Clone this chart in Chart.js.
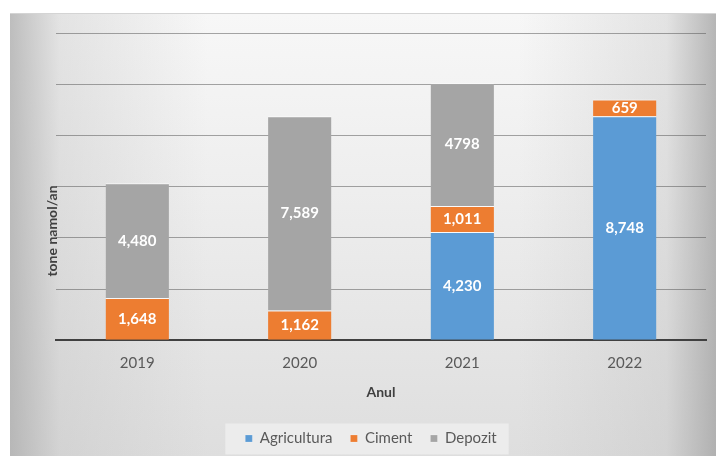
<!DOCTYPE html>
<html>
<head>
<meta charset="utf-8">
<script src="https://cdn.jsdelivr.net/npm/chart.js@4"></script>
<style>
  html, body { margin: 0; padding: 0; background: #ffffff; }
  #wrap { position: relative; width: 716px; height: 456px; }
  #bg {
    position: absolute; left: 10px; top: 13px; right: 0; bottom: 0;
    border-top: 1px solid #d4d4d4;
    background:
      linear-gradient(to right, rgba(170,170,170,0.75) 0%, rgba(190,190,190,0.35) 7%, rgba(255,255,255,0) 28%, rgba(255,255,255,0) 72%, rgba(190,190,190,0.35) 93%, rgba(165,165,165,0.8) 100%),
      linear-gradient(to bottom, #f7f7f7 0%, #eeeeee 40%, #dedede 100%);
  }
  canvas { position: absolute; left: 0; top: 0; }
</style>
</head>
<body>
<div id="wrap">
  <div id="bg"></div>
  <canvas id="chart" width="716" height="456"></canvas>
</div>
<script>
// Sludge destination by year (tonnes per year)
const years = ['2019', '2020', '2021', '2022'];
const agricultura = [0, 0, 4230, 8748];
const ciment = [1648, 1162, 1011, 659];
const depozit = [4480, 7589, 4798, 0];

// Printed value labels on each segment
const agriculturaLabels = ['', '', '4,230', '8,748'];
const cimentLabels = ['1,648', '1,162', '1,011', '659'];
const depozitLabels = ['4,480', '7,589', '4798', ''];

const seriesNames = ['Agricultura', 'Ciment', 'Depozit'];
const yTitle = 'tone namol/an';
const xTitle = 'Anul';
const yMax = 12000;
const yStep = 2000;

const FONT = 'Lato, "Open Sans", sans-serif';
const colors = ['#5b9bd5', '#ed7d31', '#a5a5a5'];

// White value labels centred in each stacked segment
const segmentLabels = {
  id: 'segmentLabels',
  afterDatasetsDraw(chart) {
    const ctx = chart.ctx;
    ctx.save();
    ctx.font = 'bold 15px ' + FONT;
    ctx.fillStyle = '#ffffff';
    ctx.textAlign = 'center';
    ctx.textBaseline = 'middle';
    chart.data.datasets.forEach((ds, di) => {
      const meta = chart.getDatasetMeta(di);
      meta.data.forEach((bar, i) => {
        const txt = ds.valueLabels[i];
        if (!txt) return;
        const p = bar.getProps(['x', 'y', 'base'], true);
        ctx.fillText(txt, p.x, (p.y + p.base) / 2);
      });
    });
    ctx.restore();
  }
};

// Y-axis title and legend backdrop
const extras = {
  id: 'extras',
  beforeDraw(chart) {
    const lg = chart.legend;
    if (lg && lg.legendHitBoxes && lg.legendHitBoxes.length) {
      const boxes = lg.legendHitBoxes;
      const l = Math.min(...boxes.map(b => b.left)) - 20;
      const r = Math.max(...boxes.map(b => b.left + b.width)) + 12;
      const cy = boxes[0].top + boxes[0].height / 2;
      const ctx = chart.ctx;
      ctx.save();
      ctx.fillStyle = 'rgba(240,240,240,0.75)';
      ctx.fillRect(l, cy - 15, r - l, 31);
      ctx.restore();
    }
  },
  afterDraw(chart) {
    const ctx = chart.ctx;
    ctx.save();
    ctx.translate(52, 231);
    ctx.rotate(-Math.PI / 2);
    ctx.font = 'bold 14px ' + FONT;
    ctx.fillStyle = '#404040';
    ctx.textAlign = 'center';
    ctx.textBaseline = 'middle';
    ctx.fillText(yTitle, 0, 0);
    ctx.restore();
  }
};

const seriesValues = [agricultura, ciment, depozit];
const seriesLabels = [agriculturaLabels, cimentLabels, depozitLabels];

new Chart(document.getElementById('chart'), {
  type: 'bar',
  data: {
    labels: years,
    datasets: seriesNames.map((name, k) => ({
      label: name,
      data: seriesValues[k],
      valueLabels: seriesLabels[k],
      backgroundColor: colors[k],
      borderColor: 'rgba(255,255,255,0.75)',
      borderWidth: { top: 1, left: 0, right: 0, bottom: 0 },
      borderSkipped: false,
      categoryPercentage: 1,
      barPercentage: 0.39
    }))
  },
  options: {
    responsive: false,
    animation: false,
    layout: { padding: { left: 36, right: 10, top: 33, bottom: 0 } },
    plugins: {
      legend: {
        position: 'bottom',
        labels: {
          font: { family: FONT, size: 15 },
          color: '#595959',
          boxWidth: 7,
          boxHeight: 7,
          padding: 18
        }
      },
      tooltip: { enabled: false }
    },
    scales: {
      x: {
        stacked: true,
        grid: { display: false, drawTicks: false },
        border: { display: true, color: '#404040', width: 2 },
        ticks: { font: { family: FONT, size: 15 }, color: '#595959', padding: 14 },
        title: {
          display: true, text: xTitle, color: '#404040',
          font: { family: FONT, size: 14, weight: 'bold' },
          padding: { top: -2, bottom: 12 }
        }
      },
      y: {
        stacked: true,
        min: 0, max: yMax,
        ticks: { display: false, stepSize: yStep },
        grid: { color: 'rgba(80,80,80,0.5)', lineWidth: 1, drawTicks: false },
        border: { display: false },
        afterFit(scale) { scale.width = 20; }
      }
    }
  },
  plugins: [segmentLabels, extras]
});
</script>
</body>
</html>
